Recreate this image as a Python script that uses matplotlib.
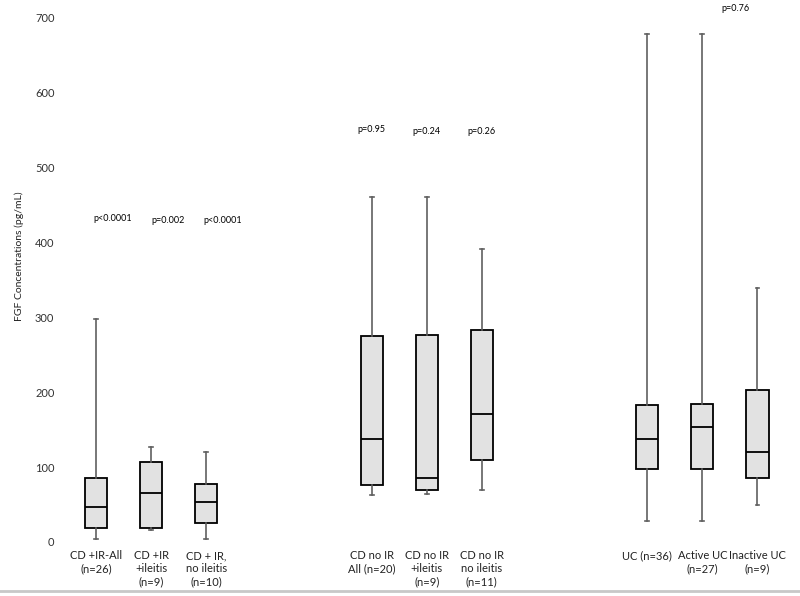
import matplotlib
matplotlib.use("Agg")
import matplotlib.pyplot as plt
from matplotlib.lines import Line2D

plt.rcParams['font.family'] = ['Lato', 'DejaVu Sans']

categories = ["CD +IR-All\n(n=26)", "CD +IR\n+ileitis\n(n=9)", "CD + IR,\nno ileitis\n(n=10)",
              "CD no IR\nAll (n=20)", "CD no IR\n+ileitis\n(n=9)", "CD no IR\nno ileitis\n(n=11)",
              "UC (n=36)", "Active UC\n(n=27)", "Inactive UC\n(n=9)"]
positions = [1, 2, 3, 6, 7, 8, 11, 12, 13]
whisker_low = [4, 16, 4, 63, 64, 70, 28, 28, 49]
q1 = [19, 19, 25, 76, 70, 110, 97, 97, 85]
median = [47, 66, 54, 138, 85, 171, 137, 154, 120]
q3 = [86, 107, 77, 275, 277, 283, 183, 184, 203]
whisker_high = [298, 127, 120, 461, 461, 392, 679, 679, 339]
p_labels = ["p<0.0001", "p=0.002", "p<0.0001", "p=0.95", "p=0.24", "p=0.26", "p=0.76"]
p_x = [1.3, 2.3, 3.3, 6.0, 7.0, 8.0, 12.6]
p_y = [432, 430, 430, 551, 548, 548, 713]
yticks = [0, 100, 200, 300, 400, 500, 600, 700]

fig = plt.figure(figsize=(8, 5.96), dpi=100)
ax = fig.add_axes([60/800, 54/596, 730/800, 524/596])

stats = []
for i in range(len(categories)):
    stats.append(dict(med=median[i], q1=q1[i], q3=q3[i],
                      whislo=whisker_low[i], whishi=whisker_high[i], fliers=[]))

ax.bxp(stats, positions=positions, widths=0.4, patch_artist=True, showfliers=False,
       capwidths=0.07,
       boxprops=dict(facecolor='#e2e2e2', edgecolor='black', linewidth=1.3),
       medianprops=dict(color='black', linewidth=1.3),
       whiskerprops=dict(color='#606060', linewidth=1.2),
       capprops=dict(color='#606060', linewidth=1.2))

ax.set_xlim(0.347, 13.59)
ax.set_ylim(0, 700)
ax.set_yticks(yticks)
ax.set_yticklabels([str(t) for t in yticks], fontsize=8, color='#333333')
ax.set_xticks(positions)
ax.set_xticklabels(categories, fontsize=8, color='#222222', linespacing=1.22, va='top')
ax.tick_params(axis='both', length=0)
ax.tick_params(axis='x', pad=6)
ax.tick_params(axis='y', pad=4)
for s in ax.spines.values():
    s.set_visible(False)

ax.set_ylabel("FGF Concentrations (pg/mL)", fontsize=7.5, color='#222222')
ax.yaxis.set_label_coords(-0.049, 0.545)

for t, x, y in zip(p_labels, p_x, p_y):
    ax.text(x, y, t, fontsize=6.5, ha='center', va='center', color='black', clip_on=False)

fig.add_artist(Line2D([0, 1], [5.5/596, 5.5/596], transform=fig.transFigure,
                      color='#c8c8c8', linewidth=2))

fig.savefig("out.png", dpi=100)
